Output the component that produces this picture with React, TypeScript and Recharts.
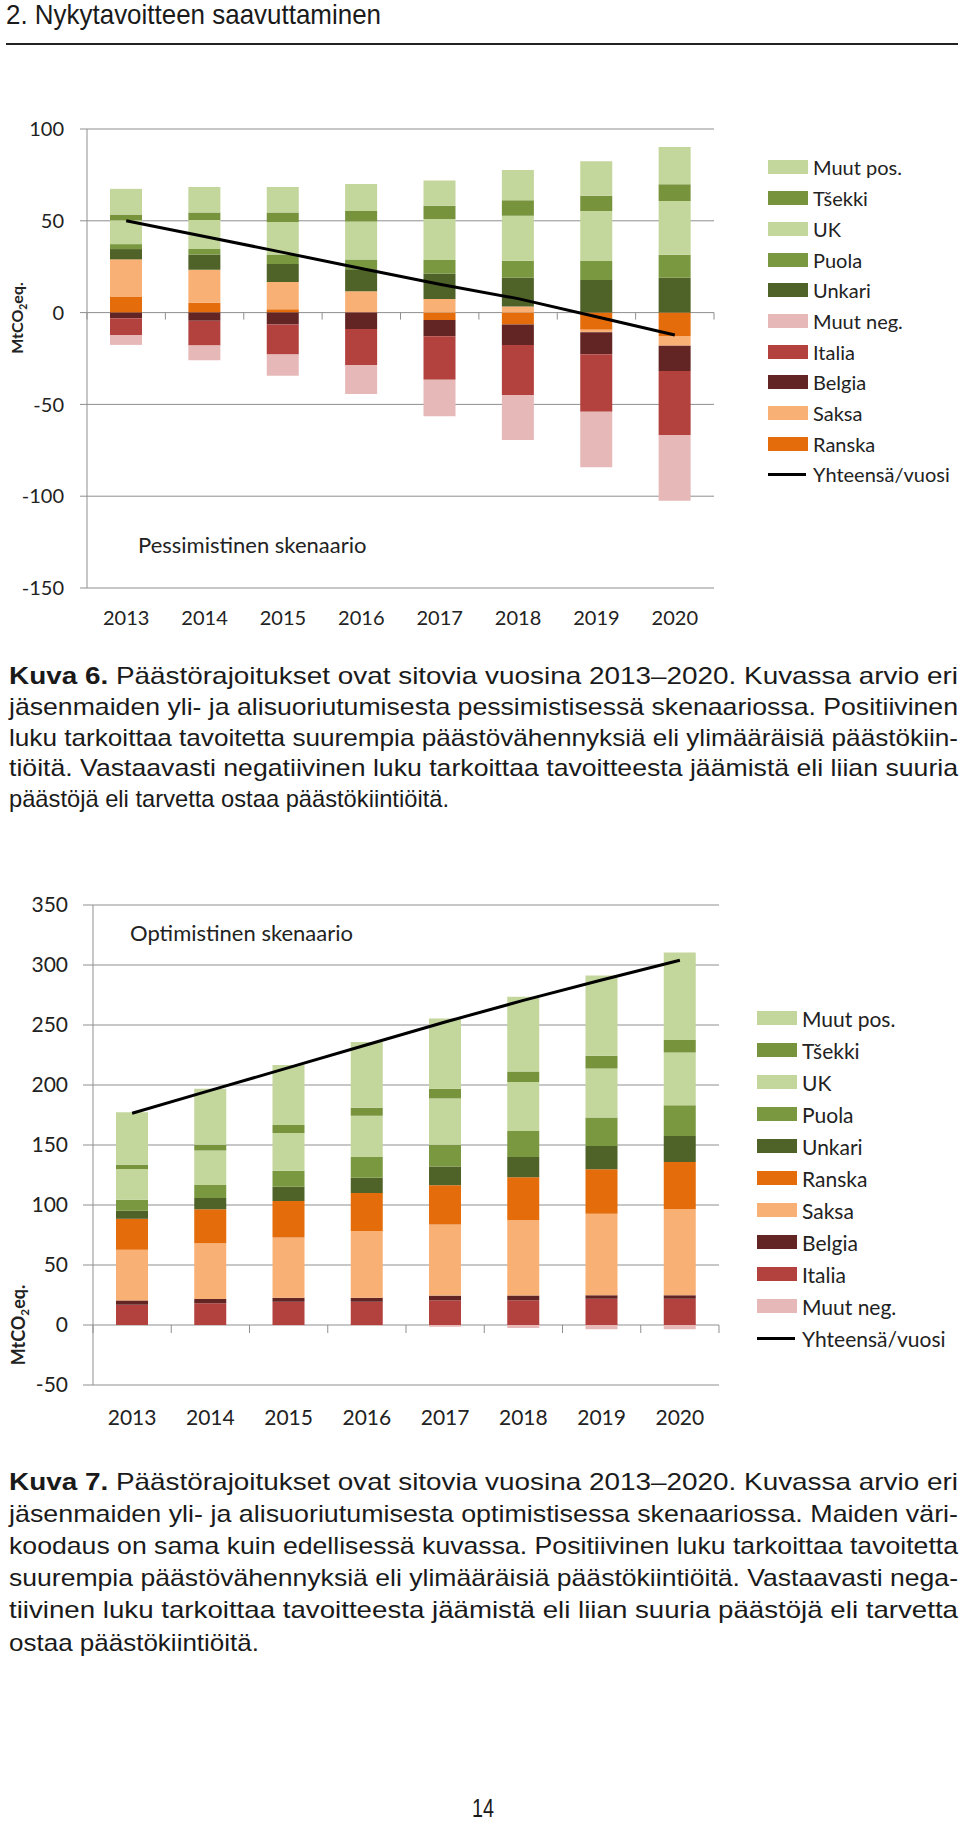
import React from "react";
import { ComposedChart, Bar, Line, XAxis, YAxis, CartesianGrid } from "recharts";

const years = ["2013", "2014", "2015", "2016", "2017", "2018", "2019", "2020"];

// Kuva 6 – pessimistinen skenaario, MtCO2eq.
const pessRanska = [8.5, 5.3, 1.8, 0, -4.0, -6.5, -9.4, -12.7];
const pessSaksa = [20.5, 18.1, 14.9, 11.6, 7.4, 3.3, -1.3, -5.3];
const pessBelgia = [-3.1, -4.5, -6.5, -8.9, -8.9, -11.2, -12.0, -13.8];
const pessItalia = [-9.1, -13.4, -16.3, -19.6, -23.7, -27.2, -31.3, -34.8];
const pessMuutNeg = [-5.4, -8.0, -11.6, -15.8, -19.9, -24.5, -30.3, -35.9];
const pessUnkari = [5.6, 8.2, 9.8, 12.0, 13.9, 15.8, 17.8, 19.0];
const pessPuola = [2.7, 3.1, 5.1, 5.3, 7.4, 9.1, 10.3, 12.5];
const pessUK = [13.0, 15.8, 17.8, 20.7, 22.3, 24.5, 27.2, 29.3];
const pessTsekki = [3.1, 4.0, 5.1, 5.8, 7.2, 8.5, 8.3, 9.1];
const pessMuutPos = [14.0, 13.9, 13.9, 14.7, 13.8, 16.5, 18.8, 20.3];
const pessTotal = [50, 41.5, 32.8, 24.0, 15.4, 7.6, -2.3, -12.2];

// Kuva 7 – optimistinen skenaario, MtCO2eq.
const optMuutNeg = [0, 0, -0.3, -0.5, -1.5, -2.5, -3.5, -3.5];
const optItalia = [16.9, 18.1, 19.4, 19.4, 20.6, 20.6, 21.9, 21.9];
const optBelgia = [3.6, 3.6, 3.3, 3.3, 3.9, 3.9, 2.8, 2.8];
const optSaksa = [42.2, 46.4, 50.3, 55.6, 59.2, 63.1, 68.1, 71.9];
const optRanska = [25.8, 28.3, 30.3, 31.7, 32.8, 35.6, 36.9, 39.2];
const optUnkari = [6.7, 9.4, 11.9, 12.8, 15.6, 16.7, 19.4, 21.7];
const optPuola = [9.2, 10.8, 13.3, 17.2, 18.1, 21.7, 23.9, 25.6];
const optUK = [25.6, 28.9, 31.4, 34.4, 38.6, 40.8, 40.8, 43.9];
const optTsekki = [3.6, 4.7, 6.7, 6.7, 8.1, 8.9, 10.6, 10.6];
const optMuutPos = [43.6, 46.7, 50.0, 54.7, 58.6, 62.2, 66.9, 72.8];
const optTotal = [176.5, 195.5, 214.5, 233.5, 252.5, 270.5, 287.5, 304];

const pessTicks = [-150, -100, -50, 0, 50, 100];
const optTicks = [-50, 0, 50, 100, 150, 200, 250, 300, 350];

const COLORS: Record<string, string> = {
  "Muut pos.": "#c3d69b",
  "Tšekki": "#77933c",
  "UK": "#c3d69b",
  "Puola": "#7a983f",
  "Unkari": "#4f6228",
  "Muut neg.": "#e6b9b8",
  "Italia": "#b3413e",
  "Belgia": "#632523",
  "Saksa": "#f9b074",
  "Ranska": "#e46c0a",
};

const GRID = "#8f8f8f";
const TEXT = "#222";
const CHART_FONT = "Lato, 'Open Sans', sans-serif";
const PAGE_FONT = "'Liberation Sans', Arial, sans-serif";
const LINE_NAME = "Yhteensä/vuosi";

type Series = { name: string; values: number[] };

// stacking order, bottom-up (legend shows these reversed)
const pessSeries: Series[] = [
  { name: "Ranska", values: pessRanska },
  { name: "Saksa", values: pessSaksa },
  { name: "Belgia", values: pessBelgia },
  { name: "Italia", values: pessItalia },
  { name: "Muut neg.", values: pessMuutNeg },
  { name: "Unkari", values: pessUnkari },
  { name: "Puola", values: pessPuola },
  { name: "UK", values: pessUK },
  { name: "Tšekki", values: pessTsekki },
  { name: "Muut pos.", values: pessMuutPos },
];

const optSeries: Series[] = [
  { name: "Muut neg.", values: optMuutNeg },
  { name: "Italia", values: optItalia },
  { name: "Belgia", values: optBelgia },
  { name: "Saksa", values: optSaksa },
  { name: "Ranska", values: optRanska },
  { name: "Unkari", values: optUnkari },
  { name: "Puola", values: optPuola },
  { name: "UK", values: optUK },
  { name: "Tšekki", values: optTsekki },
  { name: "Muut pos.", values: optMuutPos },
];

function buildRows(series: Series[], total: number[]) {
  return years.map((year, i) => {
    const row: Record<string, string | number> = { year, total: total[i] };
    series.forEach((s, j) => {
      row[`s${j}`] = s.values[i];
    });
    return row;
  });
}

interface ChartProps {
  top: number;
  width: number;
  height: number;
  margin: { top: number; right: number; bottom: number; left: number };
  yWidth: number;
  yTickSize: number;
  yTickMargin: number;
  domain: [number, number];
  ticks: number[];
  fontSize: number;
  labelY: number;
  zeroTick: number;
  series: Series[];
  total: number[];
}

function EmissionChart(p: ChartProps) {
  const data = buildRows(p.series, p.total);
  const xAxisHeight = 40;
  const plotHeight = p.height - p.margin.top - p.margin.bottom - xAxisHeight;
  const plotWidth = p.width - p.margin.left - p.margin.right - p.yWidth;
  const band = plotWidth / years.length;
  const zeroY = p.margin.top + (p.domain[1] / (p.domain[1] - p.domain[0])) * plotHeight;

  const XTick = (props: any) => {
    const { x, payload, index } = props;
    return (
      <g>
        <text x={x} y={p.labelY} dy="0.355em" textAnchor="middle" fontSize={p.fontSize} fill={TEXT} fontFamily={CHART_FONT}>
          {payload.value}
        </text>
        <line x1={x - band / 2} x2={x - band / 2} y1={zeroY} y2={zeroY + p.zeroTick} stroke={GRID} />
        {index === years.length - 1 && (
          <line x1={x + band / 2} x2={x + band / 2} y1={zeroY} y2={zeroY + p.zeroTick} stroke={GRID} />
        )}
      </g>
    );
  };

  return (
    <div style={{ position: "absolute", left: 0, top: p.top, width: p.width, height: p.height }}>
      <ComposedChart width={p.width} height={p.height} data={data} margin={p.margin} stackOffset="sign">
        <CartesianGrid horizontal vertical={false} stroke={GRID} />
        <XAxis
          dataKey="year"
          height={xAxisHeight}
          axisLine={false}
          tickLine={false}
          tickSize={0}
          interval={0}
          tick={XTick}
        />
        <YAxis
          width={p.yWidth}
          domain={p.domain}
          ticks={p.ticks}
          interval={0}
          stroke={GRID}
          tickSize={p.yTickSize}
          tickMargin={p.yTickMargin}
          tick={{ fill: TEXT, fontSize: p.fontSize, fontFamily: CHART_FONT }}
        />
        {p.series.map((s, j) => (
          <Bar
            key={s.name}
            dataKey={`s${j}`}
            name={s.name}
            stackId="a"
            barSize={32}
            fill={COLORS[s.name]}
            isAnimationActive={false}
          />
        ))}
        <Line
          dataKey="total"
          name={LINE_NAME}
          type="linear"
          stroke="#000"
          strokeWidth={3}
          dot={false}
          activeDot={false}
          isAnimationActive={false}
        />
      </ComposedChart>
    </div>
  );
}

function ChartLegend({ left, top, gap, fontSize, series }: { left: number; top: number; gap: number; fontSize: number; series: Series[] }) {
  const items = [...series].reverse();
  return (
    <div style={{ position: "absolute", left, top: top - gap / 2, fontFamily: CHART_FONT, fontSize, color: TEXT }}>
      {items.map((s) => (
        <div key={s.name} style={{ height: gap, display: "flex", alignItems: "center", whiteSpace: "nowrap" }}>
          <div style={{ width: 40, height: 14, background: COLORS[s.name], marginRight: 5 }} />
          <span>{s.name}</span>
        </div>
      ))}
      <div style={{ height: gap, display: "flex", alignItems: "center", whiteSpace: "nowrap" }}>
        <div style={{ width: 38, height: 3, background: "#000", marginRight: 7 }} />
        <span>{LINE_NAME}</span>
      </div>
    </div>
  );
}

function AxisTitle({ x, y, size }: { x: number; y: number; size: number }) {
  return (
    <div
      style={{
        position: "absolute",
        left: x,
        top: y,
        transform: "translate(-50%, -50%) rotate(-90deg)",
        fontFamily: CHART_FONT,
        fontWeight: 700,
        fontSize: size,
        color: TEXT,
        whiteSpace: "nowrap",
        lineHeight: 1,
      }}
    >
      MtCO<sub style={{ fontSize: size * 0.65 }}>2</sub>eq.
    </div>
  );
}

function Note({ left, top, size, text }: { left: number; top: number; size: number; text: string }) {
  return (
    <div style={{ position: "absolute", left, top, transform: "translateY(-50%)", fontFamily: CHART_FONT, fontSize: size, color: TEXT, whiteSpace: "nowrap", lineHeight: 1 }}>
      {text}
    </div>
  );
}

const caption6 = [
  "Päästörajoitukset ovat sitovia vuosina 2013–2020. Kuvassa arvio eri",
  "jäsenmaiden yli- ja alisuoriutumisesta pessimistisessä skenaariossa. Positiivinen",
  "luku tarkoittaa tavoitetta suurempia päästövähennyksiä eli ylimääräisiä päästökiin-",
  "tiöitä. Vastaavasti negatiivinen luku tarkoittaa tavoitteesta jäämistä eli liian suuria",
  "päästöjä eli tarvetta ostaa päästökiintiöitä.",
];
const caption7 = [
  "Päästörajoitukset ovat sitovia vuosina 2013–2020. Kuvassa arvio eri",
  "jäsenmaiden yli- ja alisuoriutumisesta optimistisessa skenaariossa. Maiden väri-",
  "koodaus on sama kuin edellisessä kuvassa. Positiivinen luku tarkoittaa tavoitetta",
  "suurempia päästövähennyksiä eli ylimääräisiä päästökiintiöitä. Vastaavasti nega-",
  "tiivinen luku tarkoittaa tavoitteesta jäämistä eli liian suuria päästöjä eli tarvetta",
  "ostaa päästökiintiöitä.",
];

function Caption({ label, lines, y0, step, lastWidth }: { label: string; lines: string[]; y0: number; step: number; lastWidth: number }) {
  return (
    <>
      {lines.map((line, i) => {
        const last = i === lines.length - 1;
        return (
          <text
            key={i}
            x={9}
            y={y0 + i * step}
            fontSize={24}
            fill="#1a1a1a"
            fontFamily={PAGE_FONT}
            textLength={last ? lastWidth : 949}
            lengthAdjust="spacingAndGlyphs"
          >
            {i === 0 && <tspan fontWeight="bold">{label} </tspan>}
            {line}
          </text>
        );
      })}
    </>
  );
}

export default function App() {
  return (
    <div style={{ position: "absolute", left: 0, top: 0, width: 960, height: 1826, background: "#fff", overflow: "hidden" }}>
      <svg width={960} height={1826} style={{ position: "absolute", left: 0, top: 0 }}>
        <text x={6} y={24} fontSize={28} fill="#1a1a1a" fontFamily={PAGE_FONT} textLength={375} lengthAdjust="spacingAndGlyphs">
          2. Nykytavoitteen saavuttaminen
        </text>
        <rect x={6} y={43} width={952} height={2} fill="#222" />
        <Caption label="Kuva 6." lines={caption6} y0={684} step={30.8} lastWidth={440} />
        <Caption label="Kuva 7." lines={caption7} y0={1490} step={32.1} lastWidth={250} />
        <text x={483} y={1817} fontSize={25} textAnchor="middle" fill="#1a1a1a" fontFamily={PAGE_FONT} textLength={22} lengthAdjust="spacingAndGlyphs">
          14
        </text>
      </svg>

      <EmissionChart
        top={0}
        width={760}
        height={650}
        margin={{ top: 129, right: 46, bottom: 22, left: 0 }}
        yWidth={87}
        yTickSize={7}
        yTickMargin={16}
        domain={[-150, 100]}
        ticks={pessTicks}
        fontSize={20}
        labelY={618}
        zeroTick={7}
        series={pessSeries}
        total={pessTotal}
      />
      <AxisTitle x={19} y={318} size={16} />
      <Note left={138} top={545} size={22} text="Pessimistinen skenaario" />
      <ChartLegend left={768} top={167.5} gap={30.7} fontSize={20} series={pessSeries} />

      <EmissionChart
        top={860}
        width={760}
        height={600}
        margin={{ top: 45, right: 41, bottom: 35, left: 0 }}
        yWidth={93}
        yTickSize={10}
        yTickMargin={15}
        domain={[-50, 350]}
        ticks={optTicks}
        fontSize={21}
        labelY={558}
        zeroTick={8}
        series={optSeries}
        total={optTotal}
      />
      <AxisTitle x={20} y={1325} size={18} />
      <Note left={130} top={933} size={22} text="Optimistinen skenaario" />
      <ChartLegend left={757} top={1018} gap={32} fontSize={21} series={optSeries} />
    </div>
  );
}
